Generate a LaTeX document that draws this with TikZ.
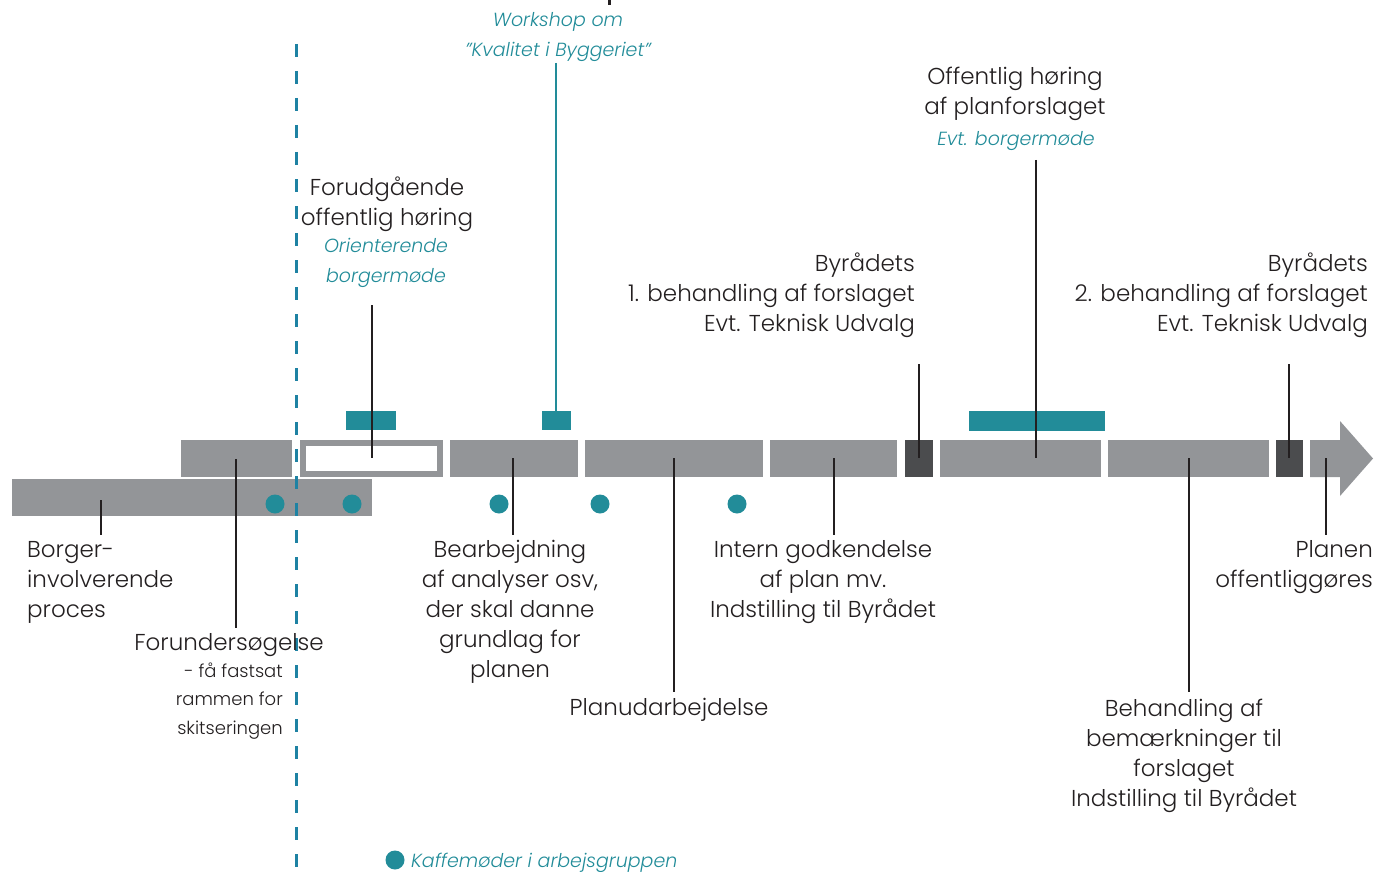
\documentclass[tikz,border=0pt]{standalone}
\usepackage{fontspec}
\setmainfont{Poppins}[UprightFont=* Light, ItalicFont=* Light Italic]
\definecolor{teal1}{HTML}{228C99}
\definecolor{dashblue}{HTML}{1E82A3}
\definecolor{bargray}{HTML}{939598}
\definecolor{bardark}{HTML}{4B4C4E}
\definecolor{ink}{HTML}{231F20}
\begin{document}
\begin{tikzpicture}[x=1pt,y=-1pt,
  seg/.style={fill=bargray},
  dseg/.style={fill=bardark},
  tbar/.style={fill=teal1},
  dot/.style={fill=teal1},
  leader/.style={draw=ink,line width=1.5pt},
  tleader/.style={draw=teal1,line width=1.5pt},
  lbl/.style={inner sep=0pt,text=ink,font=\fontsize{23}{30}\selectfont},
  tlbl/.style={inner sep=0pt,text=teal1,font=\fontsize{19}{30}\selectfont\itshape},
  slbl/.style={inner sep=0pt,text=ink,font=\fontsize{18}{28.5}\selectfont},
]
\useasboundingbox (0,0) rectangle (1376,872);
% cut-off title mark
\fill[ink] (607.5,0) rectangle (611,5);
% lower bar
\fill[seg] (12,479) rectangle (372,516);
% main bar segments
\fill[seg] (181,440) rectangle (292,477);
\fill[seg] (300,440) rectangle (443,477);
\fill[white] (306,446) rectangle (437,471);
\fill[seg] (450,440) rectangle (578,477);
\fill[seg] (585,440) rectangle (763,477);
\fill[seg] (770,440) rectangle (897,477);
\fill[dseg] (905,440) rectangle (933,477);
\fill[seg] (940,440) rectangle (1101,477);
\fill[seg] (1108,440) rectangle (1269,477);
\fill[dseg] (1276,440) rectangle (1303,477);
\fill[seg] (1310,440) -- (1340,440) -- (1340,421) -- (1373,458.5) -- (1340,496) -- (1340,477) -- (1310,477) -- cycle;
% teal bars
\fill[tbar] (346,411) rectangle (396,430);
\fill[tbar] (542,411) rectangle (571,430);
\fill[tbar] (969,411) rectangle (1105,431);
% dots
\foreach \x in {275,352,499,600,737} \fill[dot] (\x,504) circle (9.5);
\fill[dot] (395,860) circle (9.5);
% dashed line
\draw[dashblue,line width=3pt,dash pattern=on 13pt off 14pt] (296,44) -- (296,872);
% leader coordinates
\coordinate (b1) at (101,500); \coordinate (b2) at (101,535);
\coordinate (f1) at (236,459); \coordinate (f2) at (236,628);
\coordinate (o1) at (372,305); \coordinate (o2) at (372,458);
\coordinate (w1) at (556,63); \coordinate (w2) at (556,428);
\coordinate (a1) at (513,458); \coordinate (a2) at (513,535);
\coordinate (p1) at (674,458); \coordinate (p2) at (674,692);
\coordinate (i1) at (834,458); \coordinate (i2) at (834,535);
\coordinate (r1) at (919,364); \coordinate (r2) at (919,458);
\coordinate (h1) at (1036,160); \coordinate (h2) at (1036,458);
\coordinate (k1) at (1189,458); \coordinate (k2) at (1189,692);
\coordinate (s1) at (1289,364); \coordinate (s2) at (1289,458);
\coordinate (n1) at (1326,458); \coordinate (n2) at (1326,535);
\draw[leader] (b1) -- (b2);
\draw[leader] (f1) -- (f2);
\draw[leader] (o1) -- (o2);
\draw[tleader] (w1) -- (w2);
\draw[leader] (a1) -- (a2);
\draw[leader] (p1) -- (p2);
\draw[leader] (i1) -- (i2);
\draw[leader] (r1) -- (r2);
\draw[leader] (h1) -- (h2);
\draw[leader] (k1) -- (k2);
\draw[leader] (s1) -- (s2);
\draw[leader] (n1) -- (n2);
% labels (anchor base = last line baseline)
\node[tlbl,align=center,anchor=base] (workshop) at (558,57) {Workshop om\\”Kvalitet i Byggeriet”};
\node[lbl,align=center,anchor=base] (offh) at (1015,115) {Offentlig høring\\af planforslaget};
\node[tlbl,anchor=base] (evtb) at (1016,146) {Evt. borgermøde};
\node[lbl,align=center,anchor=base] (forud) at (387,225) {Forudgående\\offentlig høring};
\node[tlbl,align=center,anchor=base] (orient) at (386,282) {Orienterende\\borgermøde};
\node[lbl,align=right,anchor=base east] (byr1) at (915,331) {Byrådets\\1. behandling af forslaget\\Evt. Teknisk Udvalg};
\node[lbl,align=right,anchor=base east] (byr2) at (1368,331) {Byrådets\\2. behandling af forslaget\\Evt. Teknisk Udvalg};
\node[lbl,align=left,anchor=base west] (borger) at (27,617) {Borger-\\involverende\\proces};
\node[lbl,anchor=base] (forund) at (229,650) {Forundersøgelse};
\node[slbl,align=right,anchor=base east] (forsub) at (283,734) {- få fastsat\\rammen for\\skitseringen};
\node[lbl,align=center,anchor=base] (bearb) at (510,677) {Bearbejdning\\af analyser osv,\\der skal danne\\grundlag for\\planen};
\node[lbl,anchor=base] (planud) at (669,715) {Planudarbejdelse};
\node[lbl,align=center,anchor=base] (intern) at (823,617) {Intern godkendelse\\af plan mv.\\Indstilling til Byrådet};
\node[lbl,align=right,anchor=base east] (planen) at (1373,587) {Planen\\offentliggøres};
\node[lbl,align=center,anchor=base] (behand) at (1184,806) {Behandling af\\bemærkninger til\\forslaget\\Indstilling til Byrådet};
\node[tlbl,anchor=base west] (legend) at (411,867) {Kaffemøder i arbejsgruppen};
\end{tikzpicture}
\end{document}
